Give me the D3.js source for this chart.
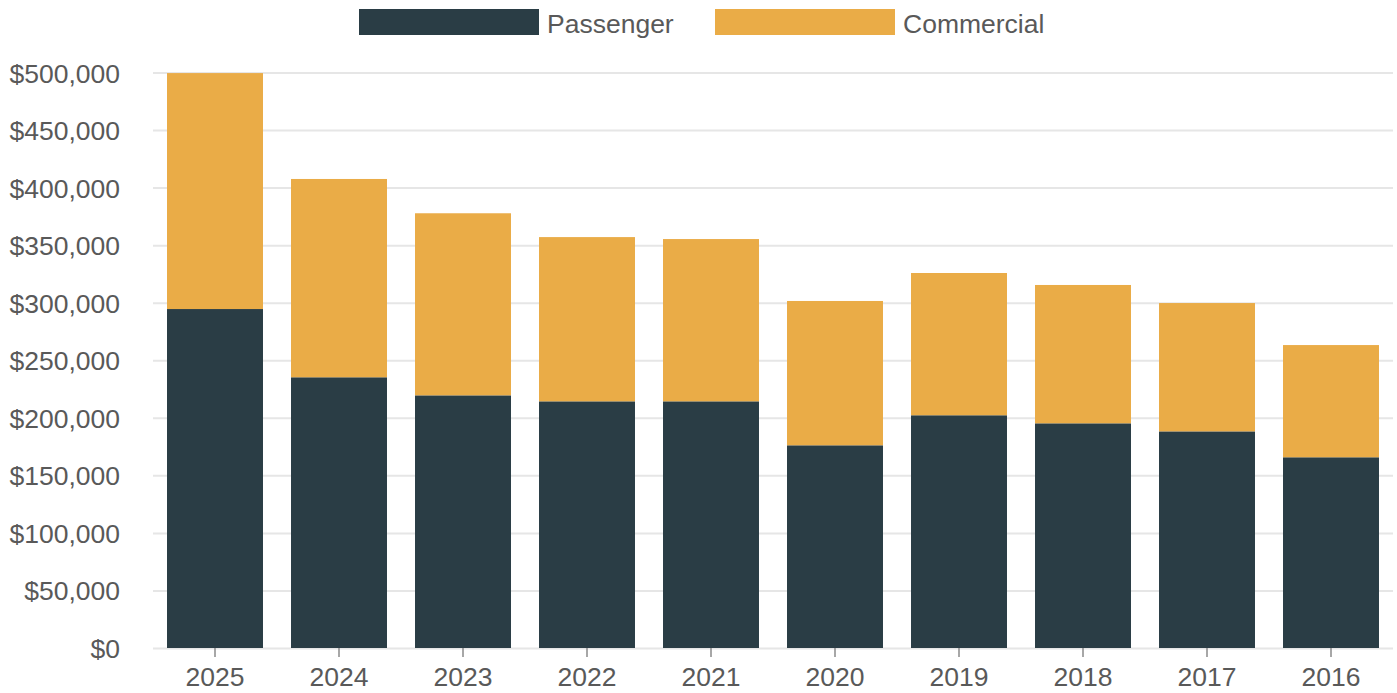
<!DOCTYPE html>
<html>
<head>
<meta charset="utf-8">
<script src="https://cdn.jsdelivr.net/npm/d3@7"></script>
<style>
  html, body { margin: 0; padding: 0; background: #fff; }
  svg { display: block; font-family: "Liberation Sans", Arial, sans-serif; }
</style>
</head>
<body>
<svg id="chart" width="1397" height="693"></svg>
<script>
// Annual value by vehicle segment
const years = ["2025", "2024", "2023", "2022", "2021", "2020", "2019", "2018", "2017", "2016"];
const passenger = [294500, 235200, 219500, 214300, 214300, 176100, 202200, 195200, 188200, 165700];
const commercial = [205000, 172300, 158200, 142700, 141000, 125400, 123600, 120200, 111500, 97500];
const seriesNames = ["Passenger", "Commercial"];
const seriesColors = ["#2a3d45", "#eaac47"];
const yTicks = [0, 50000, 100000, 150000, 200000, 250000, 300000, 350000, 400000, 450000, 500000];

const svg = d3.select("#chart");
const margin = { left: 153, right: 4, top: 72.5, bottom: 45 };
const W = 1397, H = 693;
const textColor = "#595959";
const fontSize = 26.5;

const x = d3.scaleBand()
  .domain(years)
  .range([margin.left, W - margin.right])
  .paddingInner(0.226)
  .paddingOuter(0.113);

const y = d3.scaleLinear()
  .domain([0, 500000])
  .range([H - margin.bottom, margin.top]);

const fmt = v => "$" + d3.format(",")(v);

// Horizontal gridlines with value labels
const yAxis = svg.append("g")
  .attr("transform", `translate(${margin.left},0)`)
  .call(d3.axisLeft(y).tickValues(yTicks).tickFormat(fmt)
    .tickSize(-(W - margin.right - margin.left)).tickPadding(33));
yAxis.select(".domain").remove();
yAxis.selectAll(".tick line").attr("stroke", "#e6e6e6").attr("stroke-width", 2);
yAxis.selectAll(".tick text")
  .attr("fill", textColor).attr("font-size", fontSize)
  .attr("dy", "0.36em");

// Stacked bars
const table = years.map((yr, i) => ({ year: yr, Passenger: passenger[i], Commercial: commercial[i] }));
const stack = d3.stack().keys(seriesNames)(table);

svg.append("g").selectAll("g")
  .data(stack)
  .join("g")
  .attr("fill", (d, i) => seriesColors[i])
  .selectAll("rect")
  .data(d => d)
  .join("rect")
  .attr("x", d => x(d.data.year))
  .attr("width", x.bandwidth())
  .attr("y", d => y(d[1]))
  .attr("height", d => y(d[0]) - y(d[1]));

// Category axis
const xAxis = svg.append("g")
  .attr("transform", `translate(0,${H - margin.bottom})`)
  .call(d3.axisBottom(x).tickSize(9).tickPadding(10));
xAxis.select(".domain").remove();
xAxis.selectAll(".tick line").attr("stroke", "#8a8a8a").attr("stroke-width", 1.5);
xAxis.selectAll(".tick text").attr("fill", textColor).attr("font-size", fontSize);

// Legend
const legend = svg.append("g");
const legendX = [359, 715];
seriesNames.forEach((name, i) => {
  legend.append("rect")
    .attr("x", legendX[i]).attr("y", 9)
    .attr("width", 180).attr("height", 26)
    .attr("fill", seriesColors[i]);
  legend.append("text")
    .attr("x", legendX[i] + 188).attr("y", 23)
    .attr("dy", "0.36em")
    .attr("fill", textColor).attr("font-size", fontSize)
    .text(name);
});
</script>
</body>
</html>
